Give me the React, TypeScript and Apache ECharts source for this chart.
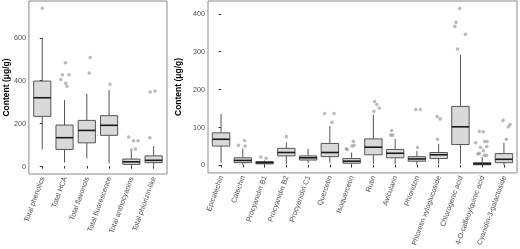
import React, { useEffect, useRef } from "react";
import * as echarts from "echarts";

// ---------- Left panel data ----------
const leftNames = [
  "Total phenolics",
  "Total HCA",
  "Total flavonols",
  "Total fluorescence",
  "Total anthocyanins",
  "Total phlorizin-like",
];
const leftLow = [78, 17, 36, 13, 0, 2];
const leftQ1 = [233, 78, 109, 144, 8, 16];
const leftMedian = [320, 133, 167, 191, 20, 27];
const leftQ3 = [398, 192, 214, 236, 33, 48];
const leftHigh = [601, 309, 339, 356, 70, 94];
const leftOutCat = [0, 1, 1, 1, 1, 1, 1, 2, 2, 3, 4, 4, 4, 4, 4, 5, 5, 5];
const leftOutValue = [739, 484, 428, 428, 405, 388, 374, 508, 436, 383, 136, 119, 119, 80, 75, 347, 352, 133];
const leftOutJitter = [0, 0.04, -0.1, 0.2, -0.17, 0.05, 0.11, 0.15, 0.11, 0.04, -0.12, 0.1, 0.3, 0.18, 0, -0.16, 0.06, -0.17];

// ---------- Right panel data ----------
const rightNames = [
  "Epicatechin",
  "Catechin",
  "Procyanidin B1",
  "Procyanidin B2",
  "Procyanidin C1",
  "Quercetin",
  "Isoquercetin",
  "Rutin",
  "Avicularin",
  "Phloridzin",
  "Phloretin xyloglucoside",
  "Chlorogenic acid",
  "4-O-caffeoylquinic acid",
  "Cyanidin-3-galactoside",
];
const rightLow = [6, 0, 0, 2, 4, 6, 0, 2, 2, 0, 2, 3, 0, 0];
const rightQ1 = [50, 6, 3, 24, 13, 22, 4.5, 27, 19, 10, 17, 54, 0.5, 6];
const rightMedian = [68, 12, 6, 33, 19, 33, 10, 47, 31, 16, 27, 101, 3, 15];
const rightQ3 = [85, 19, 9, 44, 24, 57, 17, 69, 41, 22, 33, 155, 6, 30];
const rightHigh = [135, 44, 12, 60, 42, 103, 33, 133, 69, 37, 56, 291, 21, 59];
const rightOutCat = [
  1, 1, 1, 2, 2, 3, 5, 5, 5,
  6, 6, 6, 6, 6,
  7, 7, 7, 7,
  8, 8, 8,
  9, 9, 9,
  10, 10, 10,
  11, 11, 11, 11, 11,
  12, 12, 12, 12, 12, 12, 12, 12, 12, 12, 12, 12,
  13, 13, 13, 13,
];
const rightOutValue = [
  65, 52, 50, 21, 18, 75, 136, 136, 113,
  63, 52, 50, 43, 41,
  168, 160, 151, 142,
  91, 79, 79,
  147, 147, 46,
  128, 122, 68,
  414, 378, 367, 346, 307,
  89, 88, 62, 62, 59, 49, 47, 38, 31, 29, 26, 25,
  118, 107, 101, 68,
];
const rightOutJitter = [
  0.08, -0.2, 0.1, -0.17, 0.07, 0, -0.24, 0.19, 0.09,
  0.08, 0.11, 0.02, -0.25, -0.2,
  0.06, 0.16, 0.27, 0.02,
  -0.16, -0.2, -0.11,
  -0.05, 0.16, 0.03,
  -0.07, 0.07, -0.05,
  -0.03, -0.2, -0.26, 0.23, -0.13,
  -0.13, 0.05, 0.11, 0.23, -0.3, 0.21, -0.08, 0.05, -0.13, -0.2, 0.1, 0.2,
  -0.04, 0.28, 0.2, 0.11,
];

const leftTicks = [0, 200, 400, 600];
const rightTicks = [0, 100, 200, 300, 400];

const FONT = "'Liberation Sans', Arial, sans-serif";

function makeBoxRender(widthFrac: number) {
  return (_params: any, api: any) => {
    const x = api.value(0);
    const lo = api.coord([x, api.value(1)]);
    const q1 = api.coord([x, api.value(2)]);
    const md = api.coord([x, api.value(3)]);
    const q3 = api.coord([x, api.value(4)]);
    const hi = api.coord([x, api.value(5)]);
    const band = api.size([1, 0])[0];
    const w = band * widthFrac;
    const cx = lo[0];
    const stroke = "#555555";
    return {
      type: "group",
      children: [
        { type: "line", shape: { x1: cx, y1: hi[1], x2: cx, y2: q3[1] }, style: { stroke, lineWidth: 1 } },
        { type: "line", shape: { x1: cx, y1: q1[1], x2: cx, y2: lo[1] }, style: { stroke, lineWidth: 1 } },
        {
          type: "rect",
          shape: { x: cx - w / 2, y: q3[1], width: w, height: q1[1] - q3[1] },
          style: { fill: "#d9d9d9", stroke, lineWidth: 1 },
        },
        {
          type: "line",
          shape: { x1: cx - w / 2, y1: md[1], x2: cx + w / 2, y2: md[1] },
          style: { stroke: "#1a1a1a", lineWidth: 1.6 },
        },
      ],
    };
  };
}

function xAxisFor(names: string[], gridIndex: number) {
  const idx = names.map((_, i) => i);
  return {
    type: "value",
    gridIndex,
    min: -0.6,
    max: names.length - 0.4,
    splitLine: { show: false },
    axisLine: { show: false },
    axisTick: { show: true, customValues: idx, length: 2.5, lineStyle: { color: "#333" } },
    axisLabel: {
      customValues: idx,
      formatter: (v: number) => names[Math.round(v)] ?? "",
      rotate: 70,
      fontSize: 7.2,
      color: "#4d4d4d",
      margin: 3,
      fontFamily: FONT,
    },
  };
}

function yAxisFor(min: number, max: number, ticks: number[], gridIndex: number, nameGap: number) {
  return {
    type: "value",
    gridIndex,
    min,
    max,
    name: "Content (μg/g)",
    nameLocation: "middle",
    nameGap,
    nameTextStyle: { fontWeight: "bold", fontSize: 8.5, color: "#000", fontFamily: FONT },
    splitLine: { show: false },
    axisLine: { show: false },
    axisTick: { show: true, customValues: ticks, length: 2.5, lineStyle: { color: "#333" } },
    axisLabel: { customValues: ticks, fontSize: 7.2, color: "#4d4d4d", margin: 3, fontFamily: FONT },
  };
}

export default function App() {
  const ref = useRef<HTMLDivElement>(null);
  useEffect(() => {
    if (!ref.current) return;
    const chart = echarts.init(ref.current, undefined, { renderer: "svg" });
    const leftBox = leftNames.map((_, i) => [i, leftLow[i], leftQ1[i], leftMedian[i], leftQ3[i], leftHigh[i]]);
    const rightBox = rightNames.map((_, i) => [i, rightLow[i], rightQ1[i], rightMedian[i], rightQ3[i], rightHigh[i]]);
    const leftOut = leftOutCat.map((c, i) => [c + leftOutJitter[i], leftOutValue[i]]);
    const rightOut = rightOutCat.map((c, i) => [c + rightOutJitter[i], rightOutValue[i]]);
    const outStyle = { color: "rgba(140,140,140,0.75)" };
    chart.setOption({
      animation: false,
      textStyle: { fontFamily: FONT },
      grid: [
        { left: 27, top: 1, width: 140, height: 173, show: true, borderColor: "#8a8a8a", borderWidth: 1, backgroundColor: "transparent" },
        { left: 208, top: 1, width: 309, height: 173, show: true, borderColor: "#8a8a8a", borderWidth: 1, backgroundColor: "transparent" },
      ],
      xAxis: [xAxisFor(leftNames, 0), xAxisFor(rightNames, 1)],
      yAxis: [yAxisFor(-37, 773, leftTicks, 0, 17), yAxisFor(-21, 434, rightTicks, 1, 19)],
      series: [
        { type: "custom", xAxisIndex: 0, yAxisIndex: 0, renderItem: makeBoxRender(0.77), data: leftBox },
        { type: "custom", xAxisIndex: 1, yAxisIndex: 1, renderItem: makeBoxRender(0.8), data: rightBox },
        { type: "scatter", xAxisIndex: 0, yAxisIndex: 0, symbolSize: 3.5, itemStyle: outStyle, data: leftOut },
        { type: "scatter", xAxisIndex: 1, yAxisIndex: 1, symbolSize: 3.5, itemStyle: outStyle, data: rightOut },
      ],
    });
    return () => chart.dispose();
  }, []);
  return <div ref={ref} style={{ position: "fixed", left: 0, top: 0, width: 520, height: 249 }} />;
}
